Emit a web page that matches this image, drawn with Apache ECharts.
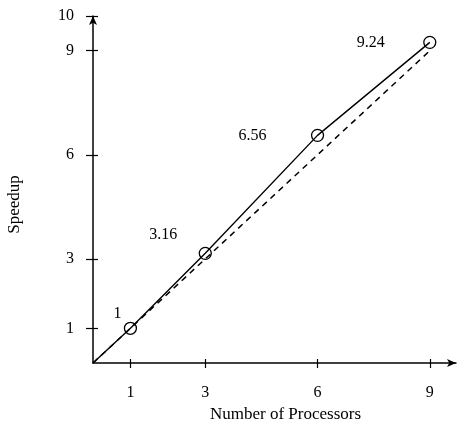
<!DOCTYPE html>
<html>
<head>
<meta charset="utf-8">
<script src="https://cdn.jsdelivr.net/npm/echarts@6/dist/echarts.min.js"></script>
<style>
  html, body { margin: 0; padding: 0; background: #fff; }
  #speedup { width: 464px; height: 424px; }
</style>
</head>
<body>
<div id="speedup"></div>
<script>
// measured speedup vs number of processors
const processors = [0, 1, 3, 6, 9];
const speedup = [0, 1, 3.16, 6.56, 9.24];
// ideal (linear) speedup
const idealX = [0, 9];
const idealY = [0, 9];
const xTicks = [1, 3, 6, 9];
const yTicks = [1, 3, 6, 9, 10];

const font = "Liberation Serif";
// where each value label sits relative to its point
const labelOffsets = [null, [-13, -15], [-42, -19], [-65, 0], [-59, 0]];

const measured = processors.map(function (x, i) {
  const item = { value: [x, speedup[i]] };
  if (i === 0) {
    item.symbol = "none";
  } else {
    item.label = {
      show: true,
      position: "inside",
      offset: labelOffsets[i],
      formatter: String(speedup[i])
    };
  }
  return item;
});

const chart = echarts.init(document.getElementById("speedup"));
chart.setOption({
  animation: false,
  textStyle: { fontFamily: font },
  grid: { left: 93, right: 8, top: 16, bottom: 61, outerBoundsMode: "none" },
  xAxis: [
    {
      type: "value",
      min: 0,
      max: 9.7,
      name: "Number of Processors",
      nameLocation: "middle",
      nameGap: 33,
      nameTextStyle: { color: "#000", fontSize: 17, fontFamily: font, padding: [0, 0, 0, 22] },
      axisLine: {
        lineStyle: { color: "#000", width: 1.5 },
        symbol: ["none", "arrow"],
        symbolSize: [6, 9]
      },
      axisTick: { customValues: xTicks, length: 5, lineStyle: { color: "#000", width: 1.2 } },
      axisLabel: { customValues: xTicks, margin: 22, color: "#000", fontSize: 16, fontFamily: font },
      splitLine: { show: false }
    },
    {
      type: "value",
      min: 0,
      max: 9.7,
      position: "bottom",
      axisLine: { show: false },
      axisTick: { customValues: xTicks, inside: true, length: 4, lineStyle: { color: "#000", width: 1.2 } },
      axisLabel: { show: false },
      splitLine: { show: false }
    }
  ],
  yAxis: [
    {
      type: "value",
      min: 0,
      max: 10,
      name: "Speedup",
      nameLocation: "middle",
      nameGap: 70,
      nameTextStyle: { color: "#000", fontSize: 17, fontFamily: font, padding: [0, 30, 0, 0] },
      axisLine: {
        lineStyle: { color: "#000", width: 1.5 },
        symbol: ["none", "arrow"],
        symbolSize: [6, 9]
      },
      axisTick: { customValues: yTicks, length: 7, lineStyle: { color: "#000", width: 1.2 } },
      axisLabel: { customValues: yTicks, margin: 19, color: "#000", fontSize: 16, fontFamily: font },
      splitLine: { show: false }
    },
    {
      type: "value",
      min: 0,
      max: 10,
      position: "left",
      axisLine: { show: false },
      axisTick: { customValues: yTicks, inside: true, length: 5, lineStyle: { color: "#000", width: 1.2 } },
      axisLabel: { show: false },
      splitLine: { show: false }
    }
  ],
  series: [
    {
      name: "measured",
      type: "line",
      data: measured,
      symbol: "circle",
      symbolSize: 12,
      lineStyle: { color: "#000", width: 1.4 },
      itemStyle: { color: "rgba(0,0,0,0)", borderColor: "#000", borderWidth: 1.3 },
      label: { color: "#000", fontSize: 16, fontFamily: font },
      z: 3
    },
    {
      name: "ideal",
      type: "line",
      data: idealX.map(function (x, i) { return [x, idealY[i]]; }),
      symbol: "none",
      lineStyle: { color: "#000", width: 1.5, type: [6, 5] },
      z: 2
    }
  ]
});
</script>
</body>
</html>
